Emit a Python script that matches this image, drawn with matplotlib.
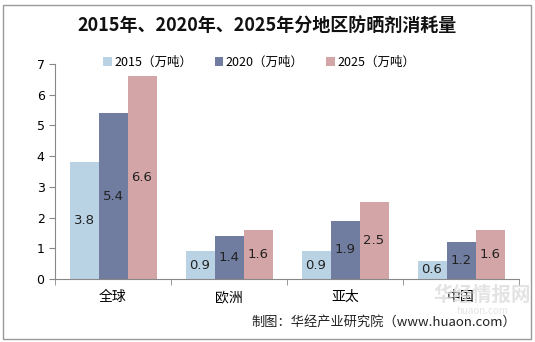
import numpy as np
import matplotlib.pyplot as plt
from matplotlib.patches import Rectangle

plt.rcParams['font.family'] = ['Noto Sans CJK SC', 'DejaVu Sans']

regions = ['全球', '欧洲', '亚太', '中国']
v2015 = [3.8, 0.9, 0.9, 0.6]
v2020 = [5.4, 1.4, 1.9, 1.2]
v2025 = [6.6, 1.6, 2.5, 1.6]
series_names = ['2015（万吨）', '2020（万吨）', '2025（万吨）']
colors = ['#B9D3E5', '#717DA0', '#D4A5A6']

fig = plt.figure(figsize=(5.35, 3.42), dpi=100)
ax = fig.add_axes([55/535, 1-279/342, 464/535, 215/342])

x = np.arange(len(regions))
w = 0.25
for i, vals in enumerate([v2015, v2020, v2025]):
    bars = ax.bar(x + (i-1)*w, vals, w, color=colors[i], label=series_names[i])
    for b, v in zip(bars, vals):
        ax.text(b.get_x() + b.get_width()/2, v/2, str(v), ha='center', va='center',
                fontsize=9.5, color='#222222', family='DejaVu Sans')

ax.set_xlim(-0.5, 3.5)
ax.set_ylim(0, 7)
ax.set_yticks(range(8))
ax.set_xticks(x)
ax.set_xticklabels(regions, fontsize=10)
ax.set_xticks(np.arange(-0.5, 4, 1), minor=True)
ax.tick_params(axis='x', which='major', length=0, pad=8)
ax.tick_params(axis='x', which='minor', length=4, color='#888888')
ax.tick_params(axis='y', length=4, color='#888888', labelsize=9)
for lbl in ax.get_yticklabels():
    lbl.set_family('DejaVu Sans')
for s in ['top', 'right']:
    ax.spines[s].set_visible(False)
for s in ['left', 'bottom']:
    ax.spines[s].set_color('#888888')

ax.legend(loc='upper center', bbox_to_anchor=(0.44, 1.09), ncol=3, frameon=False,
          fontsize=9, handlelength=0.7, handleheight=0.7, handletextpad=0.2,
          columnspacing=1.8)

fig.text(0.5, 1-26/342, '2015年、2020年、2025年分地区防晒剂消耗量', ha='center', va='center',
         fontsize=13, fontweight='bold', color='#111111')

# watermark, drawn faint behind the axis labels
fig.text(482/535, 1-295/342, '华经情报网', ha='center', va='center', fontsize=14,
         fontweight='bold', color='#DDDDDD', alpha=0.8, zorder=0)
fig.text(482/535, 1-311/342, 'huaon.com', ha='center', va='center', fontsize=7,
         color='#E4E4E4', zorder=0)

fig.text(516/535, 1-322/342, '制图：华经产业研究院（www.huaon.com）', ha='right', va='center',
         fontsize=9.5, color='#222222')

fig.patches.append(Rectangle((3/535, 3/342), 528/535, 334/342, transform=fig.transFigure,
                             fill=False, edgecolor='#999999', linewidth=1))

fig.savefig('out.png', dpi=100)
